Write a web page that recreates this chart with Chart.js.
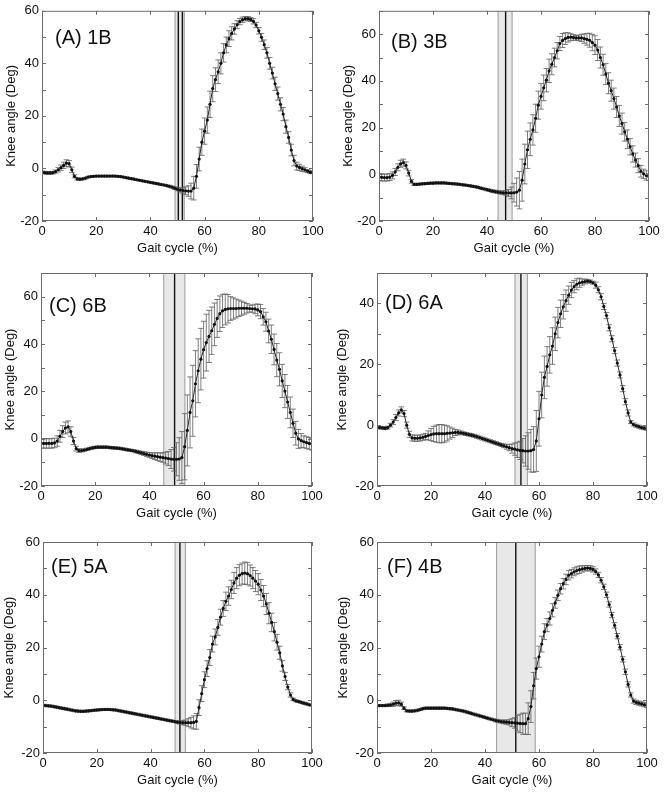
<!DOCTYPE html>
<html>
<head>
<meta charset="utf-8">
<script src="https://cdn.jsdelivr.net/npm/chart.js@4"></script>
<style>
  body { margin: 0; background: #fff; }
  #wrap { position: relative; width: 664px; height: 793px; background: #fff; }
  canvas { position: absolute; }
</style>
</head>
<body>
<div id="wrap"></div>
<script>
// gait cycle positions (%), one sample per percent
const gait = Array.from({ length: 101 }, (_, i) => i);

const labels = ['(A) 1B', '(B) 3B', '(C) 6B', '(D) 6A', '(E) 5A', '(F) 4B'];
const yMax = [60, 70, 70, 50, 60, 60];
const xTicks = [0, 20, 40, 60, 80, 100];
const yTickStep = 10; // marks every 10 deg, labels every 20

// toe-off band (start, end) and its mean line(s), in % gait cycle
const bandA = [49.1, 52.5], linesA = [50.3, 51.8];
const bandB = [44.1, 49.3], linesB = [46.9];
const bandC = [45.3, 53.1], linesC = [49.3];
const bandD = [51.1, 55.7], linesD = [53.3];
const bandE = [49.1, 52.9], linesE = [50.9];
const bandF = [44.3, 58.6], linesF = [51.4];

const meanA = [
  -1.5,-1.6,-1.7,-1.7,-1.6,-1.2,-0.5,0.3,1.2,2.0,
  1.8,-0.5,-3.0,-4.0,-4.1,-4.0,-3.7,-3.3,-3.1,-3.0,
  -2.9,-2.9,-2.9,-2.9,-2.9,-2.9,-2.9,-2.9,-3.0,-3.1,
  -3.3,-3.5,-3.7,-3.9,-4.1,-4.3,-4.5,-4.7,-4.9,-5.1,
  -5.3,-5.5,-5.7,-5.9,-6.1,-6.3,-6.5,-6.8,-7.1,-7.5,
  -7.9,-8.2,-8.4,-8.5,-8.6,-8.6,-7.5,-3.0,3.6,10.0,
  14.2,18.4,24.4,30.4,33.8,36.8,40.0,44.0,47.0,49.4,
  51.4,53.1,54.7,55.9,56.6,57.0,57.0,56.7,56.0,54.6,
  52.4,49.9,47.1,44.0,40.0,36.3,32.2,28.5,24.4,20.7,
  15.9,11.8,7.0,3.0,0.9,0.4,-0.1,-0.5,-1.0,-1.4,
  -1.6];
const sdA = [
  0.5,0.5,0.5,0.5,0.5,0.6,0.8,1.0,1.2,1.3,
  1.2,1.0,0.6,0.4,0.4,0.3,0.3,0.3,0.3,0.3,
  0.3,0.3,0.3,0.3,0.3,0.3,0.3,0.3,0.3,0.3,
  0.3,0.3,0.3,0.3,0.3,0.3,0.3,0.3,0.3,0.3,
  0.3,0.3,0.3,0.3,0.3,0.3,0.3,0.4,0.4,0.5,
  0.6,0.8,1.0,1.5,2.0,3.0,4.5,4.5,4.5,5.0,
  5.0,5.0,5.0,5.0,4.5,4.5,4.0,3.5,3.0,3.0,
  2.5,2.0,1.5,1.2,1.0,0.8,0.8,0.8,1.0,1.0,
  1.2,1.5,1.8,2.0,2.2,2.2,2.5,2.5,2.5,2.5,
  2.5,2.2,2.2,2.0,1.5,1.2,1.0,0.8,0.6,0.5,
  0.4];

const meanB = [
  -1.2,-1.3,-1.4,-1.4,-1.2,-0.5,1.0,3.0,4.5,5.0,
  3.8,0.5,-3.0,-4.3,-4.3,-4.2,-4.1,-4.0,-3.9,-3.8,
  -3.8,-3.7,-3.7,-3.7,-3.7,-3.8,-3.9,-4.0,-4.1,-4.2,
  -4.3,-4.5,-4.6,-4.8,-5.0,-5.2,-5.4,-5.7,-6.0,-6.3,
  -6.6,-6.9,-7.2,-7.4,-7.6,-7.8,-7.9,-8.0,-8.0,-8.0,
  -7.9,-7.6,-6.8,-2.5,4.4,10.5,15.0,19.0,24.0,29.6,
  33.4,37.0,40.3,44.3,47.1,50.0,52.9,56.0,57.3,58.1,
  58.6,58.7,58.6,58.4,58.4,58.4,58.1,57.8,57.4,56.4,
  55.3,53.2,50.0,46.9,42.9,39.0,35.8,32.4,28.8,25.0,
  21.7,18.2,15.0,11.8,8.7,6.1,3.7,1.3,0.2,-0.5,
  -1.2];
const sdB = [
  1.5,1.5,1.5,1.5,1.5,1.5,1.5,1.5,1.5,1.5,
  1.5,1.2,0.8,0.5,0.4,0.4,0.4,0.4,0.4,0.4,
  0.4,0.4,0.4,0.4,0.4,0.4,0.4,0.4,0.4,0.4,
  0.4,0.4,0.4,0.4,0.4,0.4,0.4,0.4,0.4,0.4,
  0.5,0.5,0.6,0.6,0.6,0.7,0.8,1.0,1.5,2.5,
  4.0,6.0,8.0,9.0,8.5,8.0,7.0,6.5,6.0,6.0,
  5.5,5.5,5.0,5.0,4.5,4.0,3.5,3.0,3.0,2.5,
  2.0,1.5,1.2,1.0,1.2,1.5,2.0,2.5,3.0,3.5,
  4.0,4.5,4.5,4.5,4.5,4.5,4.5,4.5,4.5,4.5,
  4.5,4.0,4.0,3.5,3.5,3.0,3.0,2.5,2.0,2.0,
  1.5];

const meanC = [
  -2.0,-2.0,-2.0,-2.0,-2.0,-1.8,-1.0,1.0,3.0,4.5,
  5.0,3.0,-1.0,-4.2,-5.0,-5.0,-4.8,-4.5,-4.2,-3.9,
  -3.7,-3.6,-3.6,-3.6,-3.6,-3.7,-3.8,-3.9,-4.0,-4.1,
  -4.3,-4.5,-4.7,-4.9,-5.1,-5.4,-5.7,-6.0,-6.3,-6.6,
  -6.9,-7.2,-7.4,-7.6,-7.8,-8.0,-8.2,-8.4,-8.6,-8.7,
  -8.7,-8.6,-8.0,-3.4,3.5,11.1,16.0,23.2,28.7,33.6,
  37.6,40.6,43.2,45.6,48.3,50.8,52.8,54.0,54.6,54.9,
  55.0,55.0,55.0,55.1,55.1,55.1,55.1,55.0,54.9,54.8,
  54.4,53.7,51.5,49.4,45.5,42.0,37.7,33.2,29.3,24.4,
  20.1,15.5,11.1,6.5,2.3,-0.1,-0.8,-1.3,-1.7,-2.0,
  -2.3];
const sdC = [
  2.0,2.0,2.0,2.0,2.0,2.0,2.2,2.5,2.5,2.5,
  2.5,2.0,1.5,1.0,0.8,0.6,0.5,0.5,0.5,0.5,
  0.5,0.5,0.5,0.5,0.5,0.5,0.5,0.5,0.5,0.5,
  0.5,0.5,0.5,0.5,0.5,0.6,0.6,0.7,0.8,0.9,
  1.0,1.2,1.4,1.6,1.8,2.0,2.5,3.0,4.0,5.0,
  7.0,9.0,11.0,14.0,15.0,15.0,15.0,14.0,13.5,13.0,
  12.0,12.0,11.0,10.0,9.0,8.0,7.5,7.0,6.5,6.0,
  5.0,4.5,4.0,3.5,3.0,2.5,2.0,1.5,1.5,2.0,
  2.5,3.0,3.5,4.0,5.0,6.0,6.5,7.0,7.0,7.0,
  7.0,7.0,6.5,6.0,5.0,4.0,3.0,2.5,2.5,2.5,
  2.5];

const meanD = [
  -0.8,-0.8,-0.9,-1.0,-0.8,0.0,1.0,2.5,4.0,5.0,
  3.8,0.0,-3.0,-4.2,-4.3,-4.3,-4.2,-4.0,-3.7,-3.4,
  -3.1,-2.9,-2.8,-2.8,-2.8,-2.8,-2.7,-2.6,-2.5,-2.4,
  -2.4,-2.5,-2.7,-2.9,-3.1,-3.3,-3.5,-3.8,-4.1,-4.4,
  -4.7,-5.0,-5.3,-5.6,-5.9,-6.2,-6.5,-6.8,-7.1,-7.4,
  -7.7,-7.9,-8.1,-8.3,-8.4,-8.5,-8.5,-8.4,-8.0,-5.2,
  2.1,9.9,15.7,19.3,23.1,26.0,30.0,33.7,36.6,38.9,
  40.9,42.7,44.4,45.5,46.3,46.8,47.0,47.2,47.3,47.2,
  46.8,46.0,44.5,42.2,39.0,36.0,32.0,28.4,24.5,20.4,
  16.5,12.0,7.7,4.0,1.0,0.2,-0.2,-0.5,-0.8,-1.0,
  -1.2];
const sdD = [
  0.4,0.4,0.4,0.4,0.5,0.6,0.8,1.0,1.0,1.0,
  1.0,1.0,1.0,1.0,1.0,1.0,1.0,1.0,1.0,1.5,
  2.0,2.5,2.8,3.0,3.0,2.8,2.5,2.0,1.5,1.0,
  0.8,0.6,0.5,0.5,0.5,0.5,0.5,0.5,0.5,0.5,
  0.5,0.5,0.5,0.5,0.5,0.5,0.5,0.6,0.8,1.0,
  1.5,2.0,2.5,3.0,4.0,5.0,6.0,7.0,7.5,10.0,
  9.0,7.5,7.0,6.5,6.0,6.0,5.5,5.0,4.5,4.0,
  3.5,3.0,2.5,2.0,1.8,1.5,1.0,0.8,0.6,0.5,
  0.5,1.0,1.0,1.0,1.0,1.0,1.0,1.0,1.0,1.0,
  1.0,1.0,1.0,1.0,0.5,0.5,0.5,0.5,0.5,0.5,
  0.5];

const meanE = [
  -1.9,-2.0,-2.1,-2.2,-2.4,-2.6,-2.8,-3.0,-3.2,-3.4,
  -3.6,-3.8,-4.0,-4.1,-4.2,-4.2,-4.1,-4.0,-3.9,-3.8,
  -3.7,-3.6,-3.5,-3.5,-3.5,-3.5,-3.6,-3.7,-3.9,-4.1,
  -4.3,-4.5,-4.7,-4.9,-5.1,-5.3,-5.5,-5.7,-5.9,-6.1,
  -6.3,-6.5,-6.7,-6.9,-7.1,-7.3,-7.5,-7.7,-7.9,-8.1,
  -8.3,-8.4,-8.5,-8.5,-8.5,-8.5,-8.4,-8.0,-2.8,2.5,
  7.8,12.0,16.2,21.3,24.0,27.6,31.5,34.8,37.5,39.5,
  42.0,44.5,46.3,47.4,48.0,48.2,48.0,47.3,46.3,45.2,
  44.0,41.8,39.5,36.5,33.0,29.5,26.0,22.0,18.0,13.0,
  9.0,5.0,2.0,0.3,-0.2,-0.5,-0.8,-1.1,-1.4,-1.7,
  -1.9];
const sdE = [
  0.4,0.4,0.4,0.4,0.4,0.4,0.4,0.4,0.4,0.4,
  0.4,0.4,0.4,0.4,0.4,0.4,0.4,0.4,0.4,0.4,
  0.4,0.4,0.4,0.4,0.4,0.4,0.4,0.4,0.4,0.4,
  0.4,0.4,0.4,0.4,0.4,0.4,0.4,0.4,0.4,0.4,
  0.4,0.4,0.4,0.4,0.4,0.4,0.4,0.4,0.4,0.4,
  0.5,0.6,0.8,1.0,1.5,2.0,2.5,3.0,3.0,3.0,
  3.0,3.0,3.0,3.0,3.0,3.0,3.0,3.0,3.5,3.5,
  3.5,4.0,4.0,4.0,4.0,4.2,4.2,4.0,4.0,4.0,
  4.0,4.0,4.0,4.0,4.0,3.5,3.5,3.0,2.5,2.0,
  1.5,1.0,0.8,0.5,0.4,0.4,0.4,0.4,0.4,0.4,
  0.4];

const meanF = [
  -2.0,-2.0,-2.0,-2.0,-1.9,-1.8,-1.5,-1.1,-1.0,-1.5,
  -3.0,-4.0,-4.1,-4.1,-4.0,-3.8,-3.5,-3.2,-3.0,-3.0,
  -3.0,-3.0,-3.0,-3.0,-3.0,-3.0,-3.1,-3.2,-3.3,-3.5,
  -3.7,-3.9,-4.1,-4.4,-4.7,-5.0,-5.3,-5.6,-5.9,-6.2,
  -6.5,-6.8,-7.1,-7.4,-7.7,-7.9,-8.1,-8.2,-8.3,-8.4,
  -8.5,-8.6,-8.7,-8.8,-8.9,-8.9,-7.0,-2.4,5.5,12.0,
  16.5,21.3,26.0,28.5,31.0,34.1,36.9,39.8,42.3,44.2,
  45.8,47.4,48.0,48.7,49.2,49.5,49.8,50.0,50.1,50.0,
  49.6,48.8,47.5,45.5,43.0,40.0,36.3,32.3,28.4,24.3,
  20.1,15.5,10.8,6.0,2.0,-0.3,-0.8,-1.1,-1.4,-1.7,
  -2.0];
const sdF = [
  0.4,0.4,0.4,0.4,0.5,0.6,0.8,1.0,1.0,0.8,
  0.5,0.4,0.4,0.4,0.4,0.4,0.4,0.4,0.4,0.4,
  0.4,0.4,0.4,0.4,0.4,0.4,0.4,0.4,0.4,0.4,
  0.4,0.4,0.4,0.4,0.4,0.4,0.4,0.4,0.4,0.4,
  0.4,0.4,0.4,0.4,0.5,0.5,0.6,0.7,0.8,1.0,
  1.5,2.0,3.0,3.5,4.0,4.0,6.0,6.0,5.0,4.0,
  4.0,3.0,3.0,2.5,2.5,2.5,2.0,2.0,2.0,2.0,
  2.0,1.8,1.6,1.5,1.4,1.4,1.2,1.0,1.0,1.0,
  1.0,1.0,1.0,1.0,1.0,1.0,1.0,1.0,1.0,1.0,
  1.0,1.0,1.0,1.0,0.8,0.8,0.8,0.8,0.8,0.8,
  0.8];

const FONT = '"Liberation Sans", Arial, sans-serif';

// canvas box + plot area for each panel (page pixels)
const panels = [
  { mean: meanA, sd: sdA, band: bandA, lines: linesA, cx: 0,   cy: 0,   area: [42, 9, 313, 221],   titleX: 12, lab: [13, 33] },
  { mean: meanB, sd: sdB, band: bandB, lines: linesB, cx: 332, cy: 0,   area: [379, 8, 649, 221],  titleX: 17, lab: [12, 37] },
  { mean: meanC, sd: sdC, band: bandC, lines: linesC, cx: 0,   cy: 258, area: [41, 273, 312, 486], titleX: 11, lab: [8, 39] },
  { mean: meanD, sd: sdD, band: bandD, lines: linesD, cx: 332, cy: 258, area: [377, 273, 647, 486], titleX: 11, lab: [8, 36] },
  { mean: meanE, sd: sdE, band: bandE, lines: linesE, cx: 0,   cy: 525, area: [43, 542, 312, 753], titleX: 10, lab: [8, 31] },
  { mean: meanF, sd: sdF, band: bandF, lines: linesF, cx: 332, cy: 525, area: [377, 542, 647, 753], titleX: 12, lab: [10, 31] }
];

function decor(p, label) {
  return {
    id: 'decor',
    beforeDatasetsDraw(chart) {
      const { ctx, chartArea: a, scales: { x, y } } = chart;
      ctx.save();
      ctx.beginPath();
      ctx.rect(a.left, a.top, a.right - a.left, a.bottom - a.top);
      ctx.clip();
      const b0 = x.getPixelForValue(p.band[0]);
      const b1 = x.getPixelForValue(p.band[1]);
      ctx.fillStyle = '#e8e8e8';
      ctx.fillRect(b0, a.top, b1 - b0, a.bottom - a.top);
      ctx.strokeStyle = '#9c9c9c';
      ctx.lineWidth = 1;
      [b0, b1].forEach(px => {
        ctx.beginPath(); ctx.moveTo(px, a.top); ctx.lineTo(px, a.bottom); ctx.stroke();
      });
      ctx.strokeStyle = '#111';
      ctx.lineWidth = 1.4;
      p.lines.forEach(v => {
        const px = x.getPixelForValue(v);
        ctx.beginPath(); ctx.moveTo(px, a.top); ctx.lineTo(px, a.bottom); ctx.stroke();
      });
      // error bars (mean +/- sd)
      ctx.strokeStyle = '#5e5e5e';
      ctx.lineWidth = 0.8;
      ctx.beginPath();
      p.mean.forEach((m, i) => {
        const px = x.getPixelForValue(gait[i]);
        const top = y.getPixelForValue(m + p.sd[i]);
        const bot = y.getPixelForValue(m - p.sd[i]);
        ctx.moveTo(px, top); ctx.lineTo(px, bot);
        ctx.moveTo(px - 2.8, top); ctx.lineTo(px + 2.8, top);
        ctx.moveTo(px - 2.8, bot); ctx.lineTo(px + 2.8, bot);
      });
      ctx.stroke();
      ctx.restore();
    },
    afterDraw(chart) {
      const { ctx, chartArea: a, scales: { x, y } } = chart;
      ctx.save();
      ctx.strokeStyle = '#6e6e6e';
      ctx.lineWidth = 1;
      ctx.strokeRect(a.left + 0.5, a.top + 0.5, a.right - a.left - 1, a.bottom - a.top - 1);
      ctx.beginPath();
      y.ticks.forEach(t => {
        const py = Math.round(y.getPixelForValue(t.value)) + 0.5;
        ctx.moveTo(a.left, py); ctx.lineTo(a.left + 4, py);
        ctx.moveTo(a.right - 4, py); ctx.lineTo(a.right, py);
      });
      x.ticks.forEach(t => {
        const px = Math.round(x.getPixelForValue(t.value)) + 0.5;
        ctx.moveTo(px, a.bottom); ctx.lineTo(px, a.bottom - 4);
        ctx.moveTo(px, a.top); ctx.lineTo(px, a.top + 4);
      });
      ctx.stroke();
      ctx.fillStyle = '#111';
      ctx.font = '20px ' + FONT;
      ctx.textBaseline = 'alphabetic';
      ctx.fillText(label, a.left + p.lab[0], a.top + p.lab[1]);
      ctx.restore();
    }
  };
}

const wrap = document.getElementById('wrap');
panels.forEach((p, k) => {
  const cw = 332;
  const xh = 35;
  const ch = p.area[3] + xh - p.cy;
  const cv = document.createElement('canvas');
  cv.width = cw; cv.height = ch;
  cv.style.left = p.cx + 'px'; cv.style.top = p.cy + 'px';
  cv.style.width = cw + 'px'; cv.style.height = ch + 'px';
  wrap.appendChild(cv);

  const yw = p.area[0] - p.cx;
  new Chart(cv.getContext('2d'), {
    type: 'line',
    data: {
      datasets: [{
        data: gait.map((g, i) => ({ x: g, y: p.mean[i] })),
        borderColor: '#2a2a2a',
        borderWidth: 1,
        pointRadius: 1.6,
        pointBackgroundColor: '#111',
        pointBorderWidth: 0,
        tension: 0
      }]
    },
    options: {
      responsive: false,
      animation: false,
      devicePixelRatio: 1,
      layout: { padding: { top: p.area[1] - p.cy, right: p.cx + cw - p.area[2], left: 0, bottom: 0 } },
      plugins: { legend: { display: false }, tooltip: { enabled: false } },
      scales: {
        x: {
          type: 'linear', min: 0, max: 100,
          afterFit: s => { s.height = xh; },
          afterBuildTicks: s => { s.ticks = xTicks.map(v => ({ value: v })); },
          grid: { display: false, drawTicks: false },
          border: { display: false },
          ticks: { font: { family: FONT, size: 13 }, color: '#111', padding: 3, maxRotation: 0, autoSkip: false },
          title: { display: true, text: 'Gait cycle (%)', font: { family: FONT, size: 13 }, color: '#111', padding: { top: 0, bottom: 0 } }
        },
        y: {
          min: -20, max: yMax[k],
          afterFit: s => { s.width = yw; },
          grid: { display: false, drawTicks: false },
          border: { display: false },
          ticks: {
            stepSize: yTickStep, includeBounds: false, autoSkip: false,
            font: { family: FONT, size: 13 }, color: '#111', padding: 3,
            callback: v => (v % 20 === 0 ? v : '')
          },
          title: { display: true, text: 'Knee angle (Deg)', font: { family: FONT, size: 13 }, color: '#111', padding: { top: p.titleX - 8, bottom: 0 } }
        }
      }
    },
    plugins: [decor(p, labels[k])]
  });
});
</script>
</body>
</html>
